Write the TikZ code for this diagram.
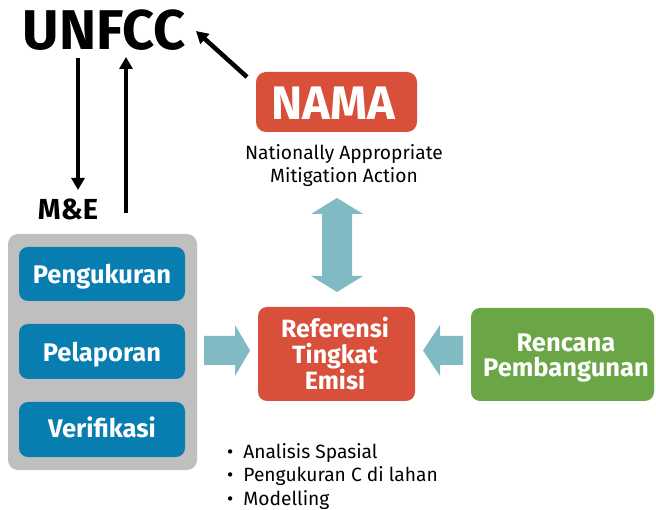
\documentclass[tikz,border=0pt]{standalone}
\usepackage{fontspec}
\setmainfont{Fira Sans}
\usetikzlibrary{arrows.meta}
\definecolor{redc}{RGB}{216,80,58}
\definecolor{bluec}{RGB}{7,125,176}
\definecolor{greenc}{RGB}{106,166,69}
\definecolor{tealc}{RGB}{128,186,194}
\definecolor{grayc}{RGB}{191,191,191}
\begin{document}
\begin{tikzpicture}[x=1pt,y=-1pt,
  boxs/.style={rounded corners=9pt, inner sep=0pt, draw=none},
  wtxt/.style={text=white, inner sep=0pt, anchor=base, font=\bfseries\fontsize{25.5}{28}\selectfont},
  blk/.style={line width=4.5pt, -{Triangle[length=12pt,width=13pt]}},
  tealarrow/.style={fill=tealc, draw=none}
]
\useasboundingbox (0,0) rectangle (656,510);

% UNFCC and M&E
\node[inner sep=0pt, anchor=base, font=\bfseries\fontsize{56}{60}\selectfont] (unfcc) at (104.5,50) {UNFCC};
\node[inner sep=0pt, anchor=base, font=\bfseries\fontsize{29}{32}\selectfont] (me) at (68,220) {M\&E};

% gray container and blue boxes
\node[boxs, fill=grayc, rounded corners=10pt, minimum width=189pt, minimum height=236pt] (mebox) at (102.5,352) {};
\node[boxs, fill=bluec, minimum width=166pt, minimum height=54pt] (peng) at (102,274) {};
\node[boxs, fill=bluec, minimum width=166pt, minimum height=55pt] (pela) at (102,351.5) {};
\node[boxs, fill=bluec, minimum width=166pt, minimum height=55pt] (veri) at (102,429.5) {};
\node[wtxt] (pengt) at (102,284) {Pengukuran};
\node[wtxt] (pelat) at (102,362) {Pelaporan};
\node[wtxt] (verit) at (102,438) {Verifikasi};

% NAMA
\node[boxs, fill=redc, rounded corners=10pt, minimum width=161pt, minimum height=60pt] (nama) at (336.5,102) {};
\node[wtxt, font=\bfseries\fontsize{47}{50}\selectfont] (namat) at (333,120) {NAMA};
\node[inner sep=0pt, anchor=base, align=center, font=\fontsize{19.2}{23}\selectfont] (namad) at (344,183) {Nationally Appropriate\\Mitigation Action};

% Referensi
\node[boxs, fill=redc, minimum width=157pt, minimum height=94pt] (ref) at (336.5,354) {};
\node[wtxt, align=center, font=\bfseries\fontsize{25}{26}\selectfont] (reft) at (335,390) {Referensi\\Tingkat\\Emisi};

% Rencana
\node[boxs, fill=greenc, minimum width=183pt, minimum height=93pt] (ren) at (562.5,354.5) {};
\node[wtxt, align=center, font=\bfseries\fontsize{25.5}{25}\selectfont] (rent) at (566,377) {Rencana\\Pembangunan};

% bullets
\node[inner sep=0pt, anchor=base west, align=left, font=\fontsize{19.2}{23.5}\selectfont] (bul) at (227,505)
  {•\hspace{10pt}Analisis Spasial\\•\hspace{10pt}Pengukuran C di lahan\\•\hspace{10pt}Modelling};

% teal block arrows
\fill[tealarrow] (337,198) -- (363,214) -- (352,214) -- (352,276) -- (363,276) -- (337,292)
  -- (311,276) -- (322,276) -- (322,214) -- (311,214) -- cycle;
\fill[tealarrow] (204,336) -- (235,336) -- (235,325) -- (250,350.5) -- (235,376) -- (235,365) -- (204,365) -- cycle;
\fill[tealarrow] (463,336) -- (440,336) -- (440,325) -- (423,350.5) -- (440,376) -- (440,365) -- (463,365) -- cycle;

% black arrows
\coordinate (a1s) at (78,58);
\coordinate (a1e) at (78,190);
\coordinate (a2s) at (126,213);
\coordinate (a2e) at (126,57);
\coordinate (a3s) at (247,77);
\coordinate (a3e) at (196,31);
\draw[blk] (a1s) -- (a1e);
\draw[blk] (a2s) -- (a2e);
\draw[blk] (a3s) -- (a3e);
\end{tikzpicture}
\end{document}
